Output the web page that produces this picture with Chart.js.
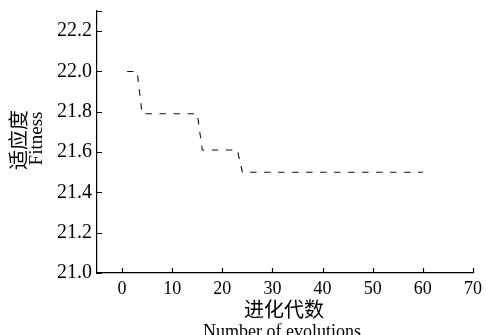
<!DOCTYPE html>
<html>
<head>
<meta charset="utf-8">
<script src="https://cdn.jsdelivr.net/npm/chart.js@4.4.1/dist/chart.umd.min.js"></script>
<style>
  html, body { margin: 0; padding: 0; background: #fff; overflow: hidden; }
  canvas { display: block; }
</style>
</head>
<body>
<canvas id="myChart" width="486" height="335"></canvas>
<script>
// generaciones y valores de fitness
const generations = [1, 2, 3, 4, 5, 6, 7, 8, 9, 10, 11, 12, 13, 14, 15, 16, 17, 18, 19, 20,
  21, 22, 23, 24, 25, 26, 27, 28, 29, 30, 31, 32, 33, 34, 35, 36, 37, 38, 39, 40,
  41, 42, 43, 44, 45, 46, 47, 48, 49, 50, 51, 52, 53, 54, 55, 56, 57, 58, 59, 60];
const fitness = [22.00, 22.00, 22.00, 21.79, 21.79, 21.79, 21.79, 21.79, 21.79, 21.79,
  21.79, 21.79, 21.79, 21.79, 21.79, 21.61, 21.61, 21.61, 21.61, 21.61,
  21.61, 21.61, 21.61, 21.50, 21.50, 21.50, 21.50, 21.50, 21.50, 21.50,
  21.50, 21.50, 21.50, 21.50, 21.50, 21.50, 21.50, 21.50, 21.50, 21.50,
  21.50, 21.50, 21.50, 21.50, 21.50, 21.50, 21.50, 21.50, 21.50, 21.50,
  21.50, 21.50, 21.50, 21.50, 21.50, 21.50, 21.50, 21.50, 21.50, 21.50];
const xTicks = [0, 10, 20, 30, 40, 50, 60, 70];
const yTicks = [21.0, 21.2, 21.4, 21.6, 21.8, 22.0, 22.2];
const xTitle = ["进化代数", "Number of evolutions"];
const yTitle = ["适应度", "Fitness"];

const serif = '"Liberation Serif", "Times New Roman", serif';
const cjk = '"Noto Sans CJK SC", sans-serif';

// ticks hacia adentro + titulos de ejes
const axisExtras = {
  id: "axisExtras",
  afterDraw(chart) {
    const ctx = chart.ctx;
    const xs = chart.scales.x, ys = chart.scales.y;
    const area = chart.chartArea;
    ctx.save();
    ctx.strokeStyle = "#000";
    ctx.lineWidth = 1.2;
    ctx.beginPath();
    xTicks.forEach(v => {
      const px = Math.round(xs.getPixelForValue(v)) + 0.5;
      ctx.moveTo(px, area.bottom);
      ctx.lineTo(px, area.bottom - 5);
    });
    yTicks.concat([ys.max]).forEach(v => {
      const py = Math.round(ys.getPixelForValue(v)) + 0.5;
      ctx.moveTo(area.left, py);
      ctx.lineTo(area.left + 5, py);
    });
    ctx.stroke();

    ctx.fillStyle = "#000";
    ctx.textAlign = "center";
    // titulo eje x
    ctx.font = "20px " + cjk;
    ctx.textBaseline = "middle";
    ctx.fillText(xTitle[0], 284, 309);
    ctx.font = "18px " + serif;
    ctx.textBaseline = "alphabetic";
    ctx.fillText(xTitle[1], 282, 337);
    // titulo eje y
    ctx.save();
    ctx.translate(18.5, 140);
    ctx.rotate(-Math.PI / 2);
    ctx.font = "20px " + cjk;
    ctx.textBaseline = "middle";
    ctx.fillText(yTitle[0], 0, 0);
    ctx.restore();
    ctx.save();
    ctx.translate(37.5, 138.5);
    ctx.rotate(-Math.PI / 2);
    ctx.font = "19px " + serif;
    ctx.textBaseline = "middle";
    ctx.fillText(yTitle[1], 0, 0);
    ctx.restore();
    ctx.restore();
  }
};

const ctx = document.getElementById("myChart").getContext("2d");
const chart = new Chart(ctx, {
  type: "line",
  data: {
    datasets: [{
      label: "Fitness",
      data: generations.map((g, i) => ({ x: g, y: fitness[i] })),
      borderColor: "#111",
      borderWidth: 1.1,
      borderDash: [6.5, 7.5],
      pointRadius: 0,
      fill: false,
      tension: 0
    }]
  },
  options: {
    responsive: false,
    animation: false,
    layout: { padding: { top: 11, right: 13, left: 0, bottom: 0 } },
    plugins: { legend: { display: false }, tooltip: { enabled: false } },
    scales: {
      x: {
        type: "linear",
        min: -5,
        max: 70,
        grid: { display: false, drawTicks: false },
        border: { display: true, color: "#000", width: 1.2 },
        afterBuildTicks: s => { s.ticks = xTicks.map(v => ({ value: v })); },
        afterFit: s => { s.height = 62; s.paddingLeft = 0; s.paddingRight = 0; },
        ticks: {
          color: "#000",
          padding: 5,
          maxRotation: 0,
          font: { family: serif, size: 18 },
          callback: v => String(v)
        }
      },
      y: {
        min: 21.0,
        max: 22.3,
        grid: { display: false, drawTicks: false },
        border: { display: true, color: "#000", width: 1.2 },
        afterBuildTicks: s => { s.ticks = yTicks.map(v => ({ value: v })); },
        afterFit: s => { s.width = 97; s.paddingTop = 0; s.paddingBottom = 0; },
        ticks: {
          color: "#000",
          padding: 5,
          font: { family: serif, size: 20 },
          callback: v => Number(v).toFixed(1)
        }
      }
    }
  },
  plugins: [axisExtras]
});
</script>
</body>
</html>
